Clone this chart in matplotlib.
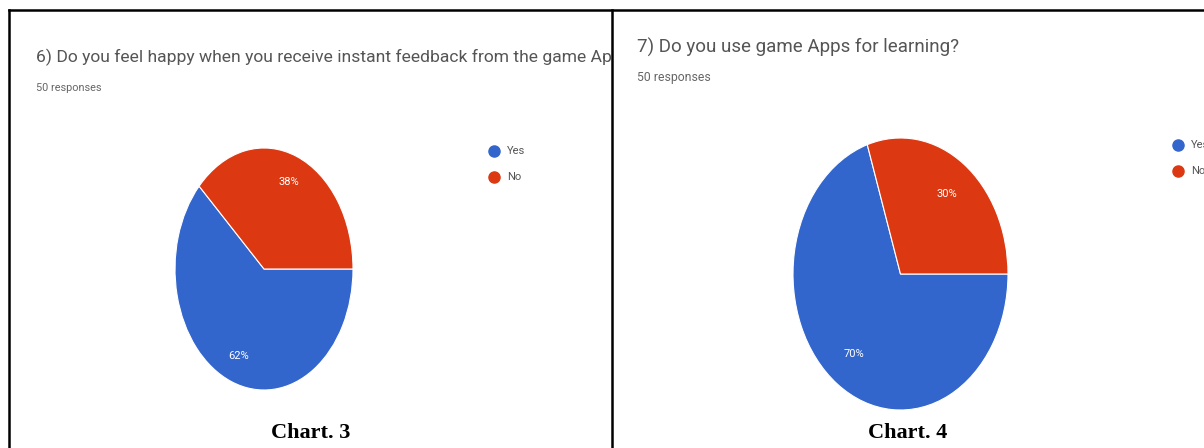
"""
Two Google-Forms style pie charts side by side (Chart 3 and Chart 4).
"""
import matplotlib.pyplot as plt
from matplotlib.lines import Line2D

# Data
labels = ['Yes', 'No']
q6_values = [62, 38]
q7_values = [70, 30]
q6_title = '6) Do you feel happy when you receive instant feedback from the game App?'
q7_title = '7) Do you use game Apps for learning?'
subtitle = '50 responses'

COLORS = ['#3366CC', '#DC3912']
W, H = 1204, 448

fig = plt.figure(figsize=(W / 100, H / 100), dpi=100)


def px_axes(x0, y0, x1, y1):
    """Axes from pixel box (top-left origin)."""
    return fig.add_axes([x0 / W, (H - y1) / H, (x1 - x0) / W, (y1 - y0) / H])


def draw_panel(x0, x1, tx, title, tsize, ty, ssize, sy, values, pie_box, pctdist,
               leg_xy, caption):
    # panel background axes used for clipping text
    bg = px_axes(x0, 10, x1, H)
    bg.set_xlim(x0, x1)
    bg.set_ylim(H, 10)
    bg.axis('off')
    bg.text(tx, ty, title, fontsize=tsize, color='#555555',
            va='center', ha='left', clip_on=True, family='Roboto')
    bg.text(tx, sy, subtitle, fontsize=ssize, color='#666666',
            va='center', ha='left', clip_on=True, family='Roboto')

    # legend
    lx, ly = leg_xy
    for i, lab in enumerate(labels):
        bg.plot([lx], [ly + i * 26], 'o', color=COLORS[i], markersize=8, clip_on=True)
        bg.text(lx + 13, ly + i * 26, lab, fontsize=8, color='#555555',
                va='center', ha='left', clip_on=True, family='Roboto')

    bg.text((x0 + x1) / 2, 433, caption, fontsize=16, fontweight='bold',
            family='Liberation Serif', ha='center', va='center', color='black')

    ax = px_axes(*pie_box)
    ax.pie(values, colors=COLORS, startangle=0, counterclock=False,
           autopct='%d%%', pctdistance=pctdist,
           wedgeprops=dict(edgecolor='white', linewidth=0.8),
           textprops=dict(color='white', fontsize=8, family='Roboto'))
    ax.set_aspect('auto')
    ax.set_xlim(-1, 1)
    ax.set_ylim(-1, 1)


draw_panel(9, 612, 36, q6_title, 12.6, 57, 7.8, 88, q6_values,
           (175, 148, 353, 390), 0.77, (494, 151), 'Chart. 3')
draw_panel(612, W, 637, q7_title, 13.5, 47, 8.8, 78, q7_values,
           (793, 138, 1008, 410), 0.73, (1178, 145), 'Chart. 4')

# borders
frame = fig.add_axes([0, 0, 1, 1], facecolor='none')
frame.set_xlim(0, W)
frame.set_ylim(H, 0)
frame.axis('off')
frame.add_line(Line2D([9, W], [10, 10], color='black', linewidth=1.8))
frame.add_line(Line2D([9, 9], [10, H], color='black', linewidth=1.8))
frame.add_line(Line2D([612, 612], [10, H], color='black', linewidth=1.8))

fig.savefig('out.png', dpi=100)
